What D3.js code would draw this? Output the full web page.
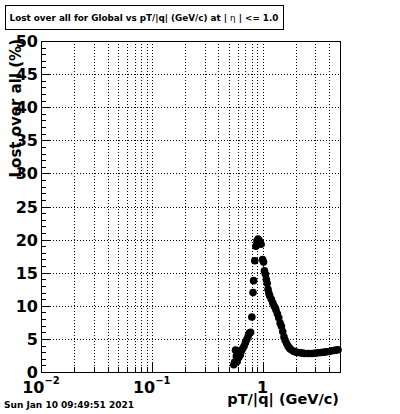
<html>
<head>
<script src="https://cdnjs.cloudflare.com/ajax/libs/d3/7.8.5/d3.min.js"></script>
<style>
  body { margin: 0; background: #fff; }
  text { font-family: "DejaVu Sans", sans-serif; font-weight: bold; }
</style>
</head>
<body>
<div id="chartContainer"></div>
<script>
// pT/|q| bin centres (GeV/c) and the lost fraction (%)
var pT = [0.55, 0.56, 0.57, 0.58, 0.59, 0.60, 0.61, 0.62, 0.63, 0.64, 0.66, 0.68,
          0.70, 0.72, 0.74, 0.76, 0.78, 0.80, 0.82, 0.83, 0.85, 0.87, 0.89, 0.91,
          0.93, 0.95, 0.97, 1.00, 1.02, 1.04, 1.06, 1.08, 1.10, 1.12, 1.14, 1.16,
          1.20, 1.24, 1.28, 1.32, 1.36, 1.40, 1.44, 1.48, 1.52, 1.56, 1.60, 1.65,
          1.70, 1.75, 1.80, 1.90, 2.00, 2.10, 2.20, 2.30, 2.40, 2.60, 2.80, 3.00,
          3.20, 3.40, 3.60, 3.80, 4.00, 4.20, 4.40, 4.60, 4.80];
var lost = [1.1, 1.5, 3.3, 2.4, 1.6, 2.8, 2.2, 3.0, 2.6, 3.1, 3.5, 3.9,
            4.4, 4.9, 5.4, 5.9, 6.0, 8.3, 12.0, 13.8, 16.8, 19.0, 19.8, 20.1,
            19.9, 19.5, 19.3, 17.0, 16.6, 15.3, 14.8, 14.0, 13.4, 12.5, 11.9, 11.5,
            11.0, 10.4, 9.9, 9.4, 8.8, 8.2, 7.4, 6.9, 6.1, 5.3, 4.8, 4.3,
            3.9, 3.6, 3.4, 3.15, 3.0, 2.95, 2.9, 2.85, 2.8, 2.8, 2.8, 2.85,
            2.9, 2.95, 3.0, 3.05, 3.1, 3.2, 3.25, 3.3, 3.35];

var xMajor = [0.01, 0.1, 1];
var xExp = ["\u22122", "\u22121", ""];
var xMinor = [0.02, 0.03, 0.04, 0.05, 0.06, 0.07, 0.08, 0.09,
              0.2, 0.3, 0.4, 0.5, 0.6, 0.7, 0.8, 0.9, 2, 3, 4, 5];
var yMajor = [0, 5, 10, 15, 20, 25, 30, 35, 40, 45, 50];
var yMinor = d3.range(0, 51, 1);

var svg = d3.select("#chartContainer").append("svg")
  .attr("width", 400).attr("height", 414);

var padL = 41, padR = 340, padT = 41, padB = 372;
var x = d3.scaleLog().domain([0.01, 5]).range([padL, padR]);
var y = d3.scaleLinear().domain([0, 50]).range([padB, padT]);

// grid
var grid = svg.append("g").attr("stroke", "#000").attr("stroke-width", 1)
  .attr("stroke-dasharray", "1,2");
grid.selectAll("line.gx").data(xMajor.concat(xMinor).filter(function (d) { return d > 0.01 && d < 5; }))
  .enter().append("line")
  .attr("x1", function (d) { return Math.round(x(d)) + 0.5; })
  .attr("x2", function (d) { return Math.round(x(d)) + 0.5; })
  .attr("y1", padT).attr("y2", padB);
grid.selectAll("line.gy").data(yMajor.filter(function (d) { return d > 0 && d < 50; }))
  .enter().append("line")
  .attr("y1", function (d) { return Math.round(y(d)) + 0.5; })
  .attr("y2", function (d) { return Math.round(y(d)) + 0.5; })
  .attr("x1", padL).attr("x2", padR);

// ticks
var ticks = svg.append("g").attr("stroke", "#000").attr("stroke-width", 1);
ticks.selectAll("line.ym").data(yMinor).enter().append("line")
  .attr("y1", function (d) { return Math.round(y(d)) + 0.5; })
  .attr("y2", function (d) { return Math.round(y(d)) + 0.5; })
  .attr("x1", padL).attr("x2", function (d) { return padL + (d % 5 === 0 ? 9 : 5); });
ticks.selectAll("line.xm").data(xMajor.concat(xMinor)).enter().append("line")
  .attr("x1", function (d) { return Math.round(x(d)) + 0.5; })
  .attr("x2", function (d) { return Math.round(x(d)) + 0.5; })
  .attr("y1", padB)
  .attr("y2", function (d) { return padB - (xMajor.indexOf(d) >= 0 ? 9 : 5); });

// frame
svg.append("rect").attr("x", padL + 0.5).attr("y", padT + 0.5)
  .attr("width", padR - padL).attr("height", padB - padT)
  .attr("fill", "none").attr("stroke", "#000").attr("stroke-width", 1);

// y labels
svg.selectAll("text.yl").data(yMajor).enter().append("text")
  .attr("x", 38).attr("y", function (d) { return y(d) + 6; })
  .attr("text-anchor", "end").style("font-size", "16px")
  .text(function (d) { return d; });

// x labels
var xl = svg.selectAll("text.xl").data(xMajor).enter().append("text")
  .attr("x", function (d) { return x(d); }).attr("y", 393)
  .attr("text-anchor", "middle").style("font-size", "16px");
xl.append("tspan").text(function (d) { return d === 1 ? "1" : "10"; });
xl.append("tspan").attr("dy", -9).style("font-size", "10px")
  .text(function (d, i) { return xExp[i]; });

// points
svg.append("g").selectAll("circle").data(pT).enter().append("circle")
  .attr("cx", function (d) { return x(d); })
  .attr("cy", function (d, i) { return y(lost[i]); })
  .attr("r", 3.8).attr("fill", "#000");

// axis titles
svg.append("text").attr("transform", "translate(21,39) rotate(-90)")
  .attr("text-anchor", "end").style("font-size", "15px")
  .text("Lost over all (%)");
svg.append("text").attr("x", 339).attr("y", 404)
  .attr("text-anchor", "end").style("font-size", "14.5px")
  .text("pT/|q| (GeV/c)");

// title box
svg.append("rect").attr("x", 5.5).attr("y", 5.5).attr("width", 278).attr("height", 24)
  .attr("fill", "#fff").attr("stroke", "#000");
var t = svg.append("text").attr("x", 144).attr("y", 21)
  .attr("text-anchor", "middle").style("font-size", "8.8px");
t.append("tspan").text("Lost over all for Global vs pT/|q| (GeV/c) at | ");
t.append("tspan").style("font-weight", "normal").text("\u03b7");
t.append("tspan").text(" | <= 1.0");

svg.append("text").attr("x", 4).attr("y", 408).style("font-size", "9px")
  .text("Sun Jan 10 09:49:51 2021");
</script>
</body>
</html>
